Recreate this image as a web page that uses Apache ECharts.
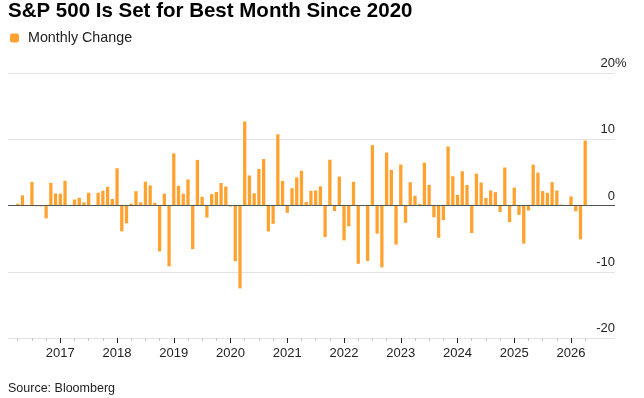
<!DOCTYPE html>
<html>
<head>
<meta charset="utf-8">
<script src="https://cdn.jsdelivr.net/npm/echarts@6/dist/echarts.min.js"></script>
<style>
  html, body { margin: 0; padding: 0; background: #fff; }
  #main { width: 644px; height: 398px; }
</style>
</head>
<body>
<div id="main"></div>
<script>
// S&P 500 monthly % change, one bar per month starting at firstMonth
const firstMonth = '2016-04';
const changes = [
  /* 2016 */ 0.27, 1.53, 0.09, 3.56, -0.12, -0.12, -1.94, 3.42, 1.82,
  /* 2017 */ 1.79, 3.72, -0.04, 0.91, 1.16, 0.48, 1.93, 0.05, 1.93, 2.22, 2.81, 0.98,
  /* 2018 */ 5.62, -3.89, -2.69, 0.27, 2.16, 0.48, 3.60, 3.03, 0.43, -6.94, 1.79, -9.18,
  /* 2019 */ 7.87, 2.97, 1.79, 3.93, -6.58, 6.89, 1.31, -1.81, 1.72, 2.04, 3.40, 2.86,
  /* 2020 */ -0.16, -8.41, -12.51, 12.68, 4.53, 1.84, 5.51, 7.01, -3.92, -2.77, 10.75, 3.71,
  /* 2021 */ -1.11, 2.61, 4.24, 5.24, 0.55, 2.22, 2.27, 2.90, -4.76, 6.91, -0.83, 4.36,
  /* 2022 */ -5.26, -3.14, 3.58, -8.80, 0.01, -8.39, 9.11, -4.24, -9.34, 7.99, 5.38, -5.90,
  /* 2023 */ 6.18, -2.61, 3.51, 1.46, 0.25, 6.47, 3.11, -1.77, -4.87, -2.20, 8.92, 4.42,
  /* 2024 */ 1.59, 5.17, 3.10, -4.16, 4.80, 3.47, 1.13, 2.28, 2.02, -0.99, 5.73, -2.50,
  /* 2025 */ 2.70, -1.42, -5.75, -0.76, 6.15, 4.96, 2.17, 1.91, 3.53, 2.27, 0.13, -0.05,
  /* 2026 */ 1.37, -0.87, -5.10, 9.80
];
const yearLabels = ['2017', '2018', '2019', '2020', '2021', '2022', '2023', '2024', '2025', '2026'];
const yTickValues = [-20, -10, 0, 10, 20];

const BAR_COLOR = '#ffa230';
const FONT = 'Liberation Sans';

// month index: 0 = Jan 2016
const baseYear = 2016;
function monthIndex(ym) {
  const [y, m] = ym.split('-').map(Number);
  return (y - baseYear) * 12 + m - 1;
}

const t0 = monthIndex(firstMonth);
const lastT = t0 + changes.length - 1;
const barData = changes.map((v, i) => [t0 + i, v]);
const yearTicks = yearLabels.map(y => monthIndex(y + '-01'));
let quarterTicks = [];
for (let t = t0; t <= lastT; t += 3) {
  if (t % 12 !== 0) quarterTicks.push(t);
}

const xMin = 0.94, xMax = 129.3;

var chart = echarts.init(document.getElementById('main'));
var option = {
  animation: false,
  textStyle: { fontFamily: FONT },
  title: [
    {
      text: 'S&P 500 Is Set for Best Month Since 2020',
      left: 8,
      top: 1,
      padding: 0,
      textStyle: { fontSize: 20.5, fontWeight: 'bold', color: '#000', fontFamily: FONT }
    },
    {
      text: 'Source: Bloomberg',
      left: 8,
      top: 382,
      padding: 0,
      textStyle: { fontSize: 12.5, fontWeight: 'normal', color: '#222', fontFamily: FONT }
    }
  ],
  legend: {
    left: 10,
    top: 31,
    padding: 0,
    icon: 'roundRect',
    itemWidth: 9,
    itemHeight: 9,
    textStyle: { fontSize: 14.3, color: '#222', padding: [0, 0, 0, 4] },
    data: ['Monthly Change']
  },
  grid: { left: 8, right: 29, top: 73, bottom: 60 },
  xAxis: [
    {
      type: 'value',
      position: 'bottom',
      min: xMin,
      max: xMax,
      splitLine: { show: false },
      axisLine: { show: false, onZero: false },
      axisTick: { show: true, customValues: yearTicks, length: 5, lineStyle: { color: '#222' } },
      axisLabel: {
        customValues: yearTicks,
        formatter: v => yearLabels[yearTicks.indexOf(v)],
        fontSize: 13,
        color: '#222',
        margin: 9
      }
    },
    {
      type: 'value',
      position: 'bottom',
      min: xMin,
      max: xMax,
      splitLine: { show: false },
      axisLine: { show: false, onZero: false },
      axisTick: { show: true, customValues: quarterTicks, length: 3, lineStyle: { color: '#c8c8c8' } },
      axisLabel: { show: false }
    }
  ],
  yAxis: [
    {
      type: 'value',
      position: 'right',
      min: -20,
      max: 20,
      interval: 10,
      axisLine: { show: false },
      axisTick: { show: false },
      splitLine: { lineStyle: { color: '#e3e3e3' } },
      axisLabel: {
        inside: true,
        align: 'right',
        verticalAlign: 'bottom',
        margin: 0,
        padding: [0, 0, 3, 0],
        customValues: yTickValues.slice(0, 4),
        fontSize: 13,
        color: '#222'
      }
    },
    {
      type: 'value',
      position: 'right',
      min: -20,
      max: 20,
      interval: 10,
      axisLine: { show: false },
      axisTick: { show: false },
      splitLine: { show: false },
      axisLabel: {
        inside: true,
        align: 'right',
        verticalAlign: 'bottom',
        margin: -11.6,
        padding: [0, 0, 3, 0],
        customValues: yTickValues.slice(4),
        formatter: '{value}%',
        fontSize: 13,
        color: '#222'
      }
    }
  ],
  series: [
    {
      name: 'Monthly Change',
      type: 'bar',
      data: barData,
      barWidth: 3.3,
      itemStyle: { color: BAR_COLOR },
      markLine: {
        silent: true,
        symbol: ['none', 'none'],
        label: { show: false },
        lineStyle: { color: '#555', width: 1, type: 'solid' },
        data: [{ yAxis: 0 }]
      }
    }
  ]
};

option && chart.setOption(option);
</script>
</body>
</html>
